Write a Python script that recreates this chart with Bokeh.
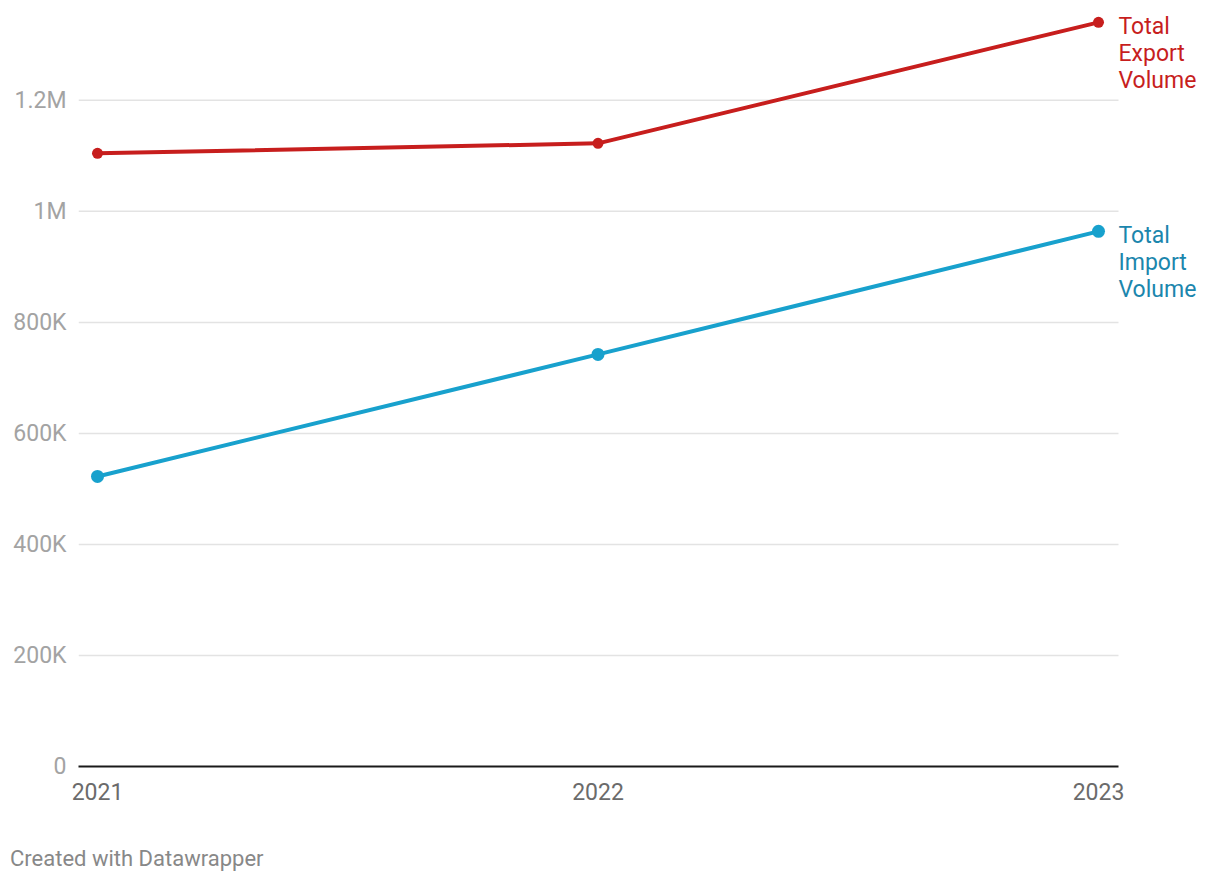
from bokeh.plotting import figure
from bokeh.models import FixedTicker, Range1d, Div
from bokeh.layouts import column
from bokeh.core.properties import value
from bokeh.embed import file_html
from bokeh.resources import INLINE

years = [2021, 2022, 2023]
export_volume = [1104500, 1122500, 1340500]
import_volume = [522500, 742300, 964000]
y_ticks = [0, 200000, 400000, 600000, 800000, 1000000, 1200000]
y_tick_labels = ["0", "200K", "400K", "600K", "800K", "1M", "1.2M"]
x_tick_labels = ["2021", "2022", "2023"]
series_names = ["Total\nExport\nVolume", "Total\nImport\nVolume"]
credit_text = "Created with Datawrapper"

RED = "#c71e1d"
BLUE_LINE = "#18a1cd"
BLUE_TEXT = "#1b86ad"
FONT = "Roboto"

X_START, X_END, GRID_END = 2020.962, 2023.2278, 2023.04

p = figure(width=1212, height=812, output_backend="svg", toolbar_location=None,
           x_range=Range1d(X_START, X_END), y_range=Range1d(0, 1360000),
           min_border_left=78, min_border_right=0, min_border_top=11, min_border_bottom=46)
p.outline_line_color = None
p.background_fill_color = "white"
p.border_fill_color = "white"

# grid (drawn manually so that it stops before the end labels)
p.xgrid.grid_line_color = None
p.ygrid.grid_line_color = None
grid_ticks = y_ticks[1:]
p.segment(x0=[X_START] * len(grid_ticks), x1=[GRID_END] * len(grid_ticks),
          y0=grid_ticks, y1=grid_ticks, line_color="#e3e3e3", line_width=1.5)

# y axis
p.yaxis.ticker = FixedTicker(ticks=y_ticks)
p.yaxis.major_label_overrides = {t: l for t, l in zip(y_ticks, y_tick_labels)}
p.yaxis.axis_line_color = None
p.yaxis.major_tick_line_color = None
p.yaxis.minor_tick_line_color = None
p.yaxis.major_tick_out = 0
p.yaxis.major_label_standoff = 12
p.yaxis.major_label_text_font = FONT
p.yaxis.major_label_text_font_size = "23px"
p.yaxis.major_label_text_color = "#a3a3a3"

# x axis
p.xaxis.ticker = FixedTicker(ticks=years)
p.xaxis.major_label_overrides = {y: l for y, l in zip(years, x_tick_labels)}
p.xaxis.bounds = (X_START, GRID_END)
p.xaxis.axis_line_color = "#1a1a1a"
p.xaxis.axis_line_width = 2
p.xaxis.major_tick_line_color = None
p.xaxis.minor_tick_line_color = None
p.xaxis.major_tick_out = 0
p.xaxis.major_label_standoff = 16
p.xaxis.major_label_text_font = FONT
p.xaxis.major_label_text_font_size = "23px"
p.xaxis.major_label_text_color = "#6b6b6b"

# lines
p.line(years, export_volume, line_color=RED, line_width=4)
p.scatter(years, export_volume, size=11, fill_color=RED, line_color=None)
p.line(years, import_volume, line_color=BLUE_LINE, line_width=4)
p.scatter(years, import_volume, size=13, fill_color=BLUE_LINE, line_color=None)

# end labels
for vals, name, col in [(export_volume, series_names[0], RED), (import_volume, series_names[1], BLUE_TEXT)]:
    p.text(x=[years[-1]], y=[vals[-1]], text=[name], x_offset=20, y_offset=-9,
           text_baseline="top", text_align="left", text_font=value(FONT),
           text_font_size="23px", text_color=col, text_line_height=1.0)

# credit
credit = Div(text=credit_text, width=1212, height=60,
             styles={"font-family": "Roboto", "font-size": "22px", "color": "#888888",
                     "padding-top": "29px", "padding-left": "5px", "line-height": "26px",
                     "box-sizing": "border-box"})

layout = column(p, credit, spacing=0)
open("out.html", "w").write(file_html(layout, INLINE))
